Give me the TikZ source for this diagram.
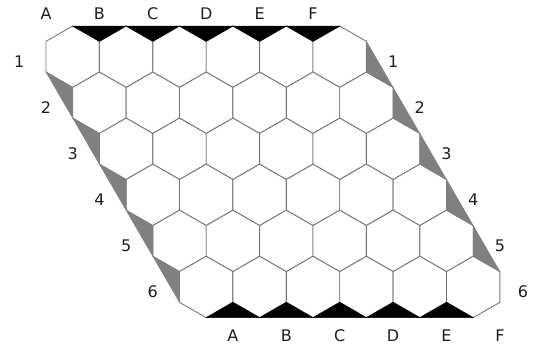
\documentclass[tikz,border=0pt]{standalone}
\usepackage{fontspec}
\setmainfont{DejaVu Sans}
\definecolor{hexgray}{RGB}{120,120,120}
\definecolor{sidegray}{RGB}{128,128,128}
\definecolor{labelgray}{RGB}{30,30,30}
\begin{document}
\begin{tikzpicture}[x=1pt,y=-1pt]
\useasboundingbox (0,0) rectangle (534,349);
\def\hh{26.7}
\def\rr{30.7}
\def\ox{72.7}
\def\oy{56.7}
\tikzset{
  hexline/.style={draw=hexgray, line width=0.9pt, fill=white, line join=miter},
  blackedge/.style={fill=black, draw=black, line width=0.5pt},
  grayedge/.style={fill=sidegray, draw=sidegray, line width=0.5pt},
  lbl/.style={font=\fontsize{16}{19}\selectfont, text=labelgray, inner sep=0pt}
}
% hexagons
\foreach \j in {0,...,5}{
  \foreach \c in {0,...,5}{
    \pgfmathsetmacro\cx{\ox+2*\hh*\c+\hh*\j}
    \pgfmathsetmacro\cy{\oy+1.5*\rr*\j}
    \draw[hexline] (\cx,\cy-\rr) -- (\cx+\hh,\cy-\rr/2) -- (\cx+\hh,\cy+\rr/2) -- (\cx,\cy+\rr) -- (\cx-\hh,\cy+\rr/2) -- (\cx-\hh,\cy-\rr/2) -- cycle;
  }
}
% black edge triangles (top and bottom)
\foreach \c in {0,...,4}{
  \pgfmathsetmacro\cx{\ox+2*\hh*\c}
  \pgfmathsetmacro\cy{\oy}
  \filldraw[blackedge] (\cx,\cy-\rr) -- (\cx+2*\hh,\cy-\rr) -- (\cx+\hh,\cy-\rr/2) -- cycle;
  \pgfmathsetmacro\bx{\ox+2*\hh*\c+5*\hh}
  \pgfmathsetmacro\by{\oy+7.5*\rr}
  \filldraw[blackedge] (\bx,\by+\rr) -- (\bx+2*\hh,\by+\rr) -- (\bx+\hh,\by+\rr/2) -- cycle;
}
% gray edge triangles (left and right)
\foreach \j in {0,...,4}{
  \pgfmathsetmacro\cx{\ox+\hh*\j}
  \pgfmathsetmacro\cy{\oy+1.5*\rr*\j}
  \filldraw[grayedge] (\cx-\hh,\cy+\rr/2) -- (\cx,\cy+\rr) -- (\cx,\cy+2*\rr) -- cycle;
  \pgfmathsetmacro\fx{\ox+10*\hh+\hh*\j}
  \filldraw[grayedge] (\fx+\hh,\cy-\rr/2) -- (\fx+\hh,\cy+\rr/2) -- (\fx+2*\hh,\cy+\rr) -- cycle;
}
% labels
\foreach \L [count=\k from 0] in {A,B,C,D,E,F}{
  \pgfmathsetmacro\tx{\ox-\hh+2*\hh*\k}
  \node[lbl] (top\L) at (\tx,14) {\L};
  \pgfmathsetmacro\ux{\ox+6*\hh+2*\hh*\k}
  \node[lbl] (bot\L) at (\ux,336) {\L};
}
\foreach \n [count=\j from 0] in {1,...,6}{
  \pgfmathsetmacro\lx{\ox-2*\hh+\hh*\j}
  \pgfmathsetmacro\ly{\oy+1.5*\rr*\j+4.5}
  \node[lbl] (left\n) at (\lx,\ly) {\n};
  \pgfmathsetmacro\rx{min(\ox+12*\hh+\hh*\j,523)}
  \node[lbl] (right\n) at (\rx,\ly) {\n};
}
\end{tikzpicture}
\end{document}
